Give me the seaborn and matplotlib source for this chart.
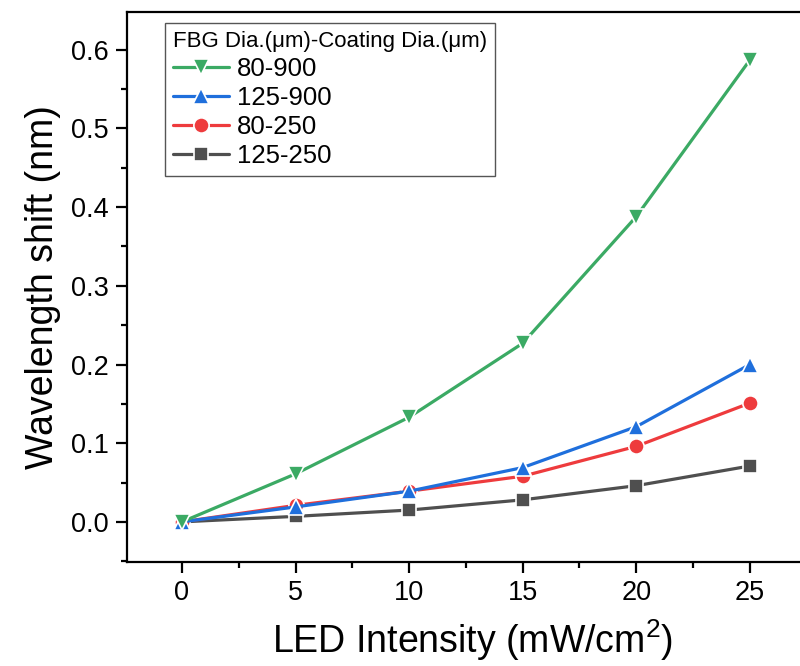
import matplotlib
matplotlib.use("Agg")
import matplotlib.pyplot as plt
from matplotlib.ticker import MultipleLocator, FormatStrFormatter
import numpy as np
import pandas as pd
import seaborn as sns

# LED intensity steps (mW/cm^2)
intensity = [0, 5, 10, 15, 20, 25]

# Wavelength shift (nm) for each FBG / coating diameter pair
shift_80_900 = [0.0, 0.061, 0.133, 0.227, 0.388, 0.587]
shift_125_900 = [0.0, 0.019, 0.039, 0.069, 0.121, 0.200]
shift_80_250 = [0.0, 0.021, 0.039, 0.058, 0.096, 0.151]
shift_125_250 = [0.0, 0.007, 0.015, 0.028, 0.046, 0.071]

series_names = ["80-900", "125-900", "80-250", "125-250"]
series_values = [shift_80_900, shift_125_900, shift_80_250, shift_125_250]
colors = {"80-900": "#3BAA64", "125-900": "#1F6FDC", "80-250": "#EE3B3D", "125-250": "#4F4F4F"}
markers = {"80-900": "v", "125-900": "^", "80-250": "o", "125-250": "s"}
sizes = {"80-900": 11.5, "125-900": 11.5, "80-250": 11, "125-250": 9.5}

legend_title = "FBG Dia.(\u03bcm)-Coating Dia.(\u03bcm)"

rows = []
for name, vals in zip(series_names, series_values):
    for x, y in zip(intensity, vals):
        rows.append({"Intensity": x, "Shift": y, "Fiber": name})
df = pd.DataFrame(rows)

sns.set_theme(style="ticks")
plt.rcParams["font.family"] = ["Liberation Sans", "DejaVu Sans"]
plt.rcParams["mathtext.fontset"] = "custom"
plt.rcParams["mathtext.rm"] = "Liberation Sans"
plt.rcParams["mathtext.default"] = "regular"
plt.rcParams["text.color"] = "black"
plt.rcParams["axes.labelcolor"] = "black"

fig = plt.figure(figsize=(8, 6.66), dpi=100)
ax = fig.add_axes([127 / 800, 104 / 666, 691 / 800, 550 / 666])

# draw lower curves first so the steep ones sit on top
for name in reversed(series_names):
    sub = df[df["Fiber"] == name]
    sns.lineplot(data=sub, x="Intensity", y="Shift", ax=ax, color=colors[name],
                 marker=markers[name], markersize=sizes[name], linewidth=2.3,
                 markeredgecolor="white", markeredgewidth=1.2, label=name)

ax.set_xlim(-2.42, 28.0)
ax.set_ylim(-0.051, 0.648)
ax.xaxis.set_major_locator(MultipleLocator(5))
ax.xaxis.set_minor_locator(MultipleLocator(2.5))
ax.yaxis.set_major_locator(MultipleLocator(0.1))
ax.yaxis.set_minor_locator(MultipleLocator(0.05))
ax.yaxis.set_major_formatter(FormatStrFormatter("%.1f"))

for side in ["left", "bottom", "top"]:
    ax.spines[side].set_linewidth(1.6)
    ax.spines[side].set_color("black")
ax.spines["right"].set_visible(False)

ax.tick_params(which="major", direction="out", length=8, width=1.6, labelsize=19.5,
               colors="black", pad=5)
ax.tick_params(which="minor", direction="out", length=4.5, width=1.6, colors="black")
ax.tick_params(top=False, right=False, which="both")

ax.set_xlabel("LED Intensity (mW/cm$^2$)", fontsize=27, labelpad=8, color="black")
ax.set_ylabel("Wavelength shift (nm)", fontsize=27, labelpad=7, color="black")

handles, labels = ax.get_legend_handles_labels()
order = [labels.index(n) for n in series_names]
leg = ax.legend([handles[i] for i in order], [labels[i] for i in order],
                title=legend_title, loc="upper left", bbox_to_anchor=(0.055, 0.98),
                borderaxespad=0, fontsize=18.5, title_fontsize=16, alignment="left",
                frameon=True, fancybox=False, framealpha=1, edgecolor="#555555",
                handlelength=2.2, handletextpad=0.3, labelspacing=0.2,
                borderpad=0.3)
leg.get_frame().set_linewidth(1.0)
for t in leg.get_texts():
    t.set_color("black")
leg.get_title().set_color("black")

fig.savefig("out.png", dpi=100)
